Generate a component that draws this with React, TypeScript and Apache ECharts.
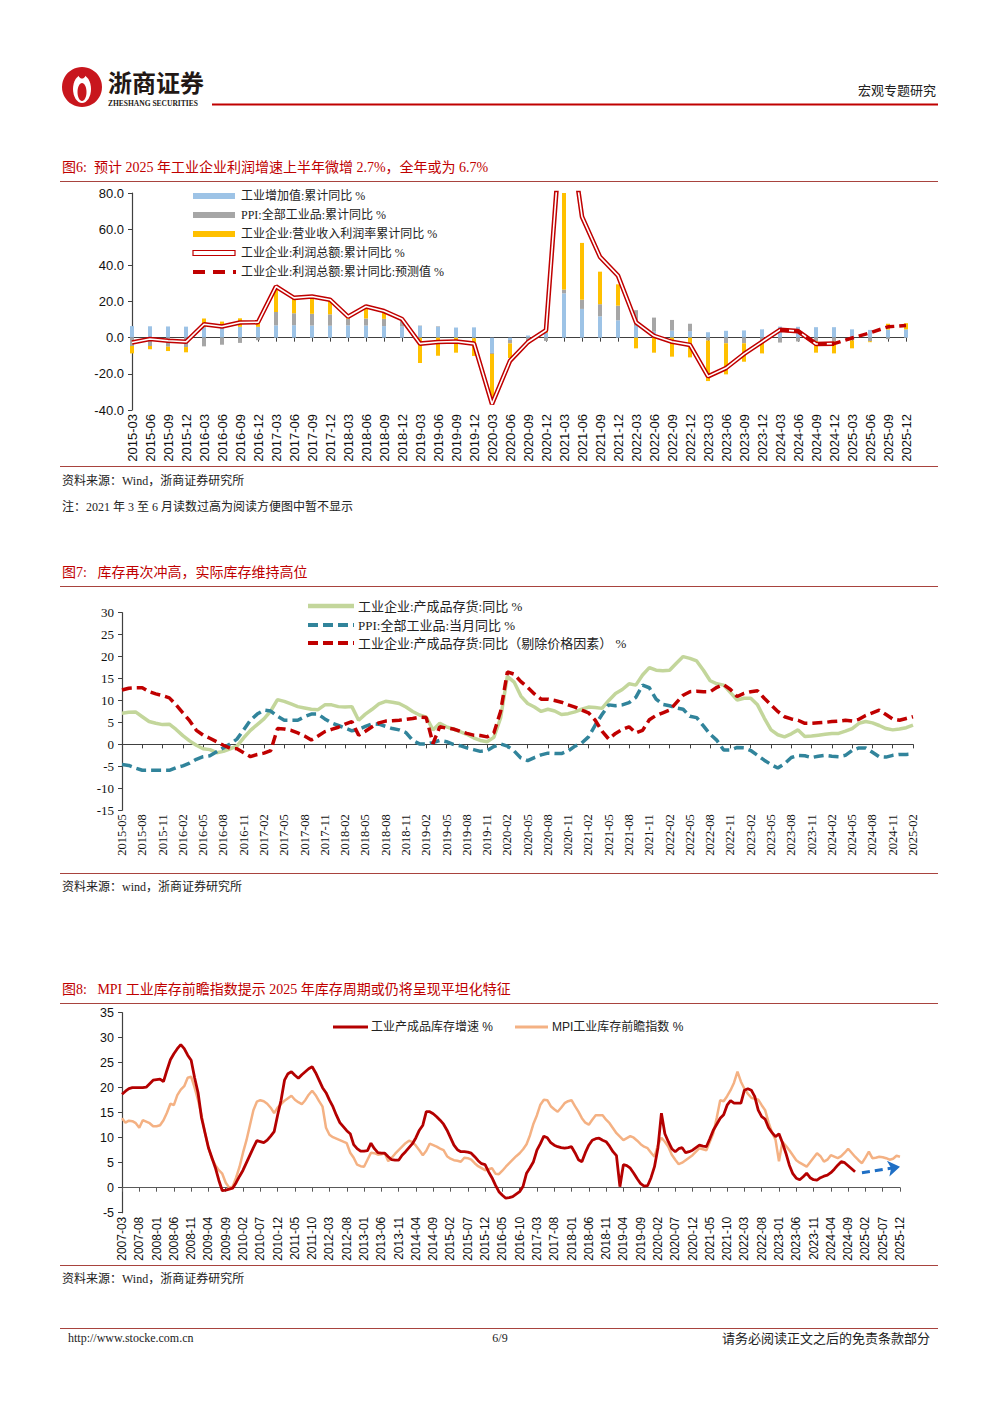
import React, { useEffect, useRef } from 'react';
import * as echarts from 'echarts';

function monthRange(y0: number, m0: number, y1: number, m1: number, step: number): string[] {
  const out: string[] = [];
  let y = y0, m = m0;
  while (y < y1 || (y === y1 && m <= m1)) {
    out.push(`${y}-${String(m).padStart(2, '0')}`);
    m += step;
    while (m > 12) { m -= 12; y += 1; }
  }
  return out;
}

// ---------- Chart 1 (图6) ----------
const c1Cats = monthRange(2015, 3, 2025, 12, 3);
const c1VA = [6.4,6.3,6.2,6.1,5.8,6.0,6.0,6.0,6.8,6.9,6.7,6.6,6.8,6.7,6.4,6.2,6.5,6.0,5.6,5.7,-8.4,-1.3,1.2,2.8,24.5,15.9,11.8,9.6,6.5,3.4,3.9,3.6,3.0,3.8,4.0,4.6,6.1,6.0,5.8,5.8,4.6,4.3,4.5,4.6];
const c1PPI = [-4.6,-4.6,-5.0,-5.2,-4.8,-3.9,-2.9,-1.4,7.4,6.6,6.5,6.3,3.7,3.9,4.0,3.5,0.2,0.3,0.0,-0.3,-0.6,-1.9,-2.0,-1.8,2.1,5.1,6.7,8.1,8.7,7.7,5.9,4.1,-1.6,-3.1,-3.1,-3.0,-2.7,-2.1,-1.9,-2.2,-1.5,-2.0,-0.8,-0.2];
const c1Margin = [-4.1,-1.8,-2.4,-2.9,4.8,2.9,4.7,3.0,12.5,8.4,9.4,7.9,1.0,6.5,4.0,0.6,-14.0,-10.0,-8.3,-9.8,-27.0,-8.0,-1.5,1.0,110.7,31.4,18.0,11.8,-5.9,-8.3,-10.5,-10.9,-22.4,-17.2,-10.2,-5.7,0.0,0.0,-6.4,-6.5,-4.4,-0.5,3.2,3.4];
const c1Profit = [-2.7,-0.7,-1.7,-2.3,7.4,6.2,8.4,8.5,28.3,22.0,22.8,21.0,11.6,17.2,14.7,10.3,-3.3,-2.4,-2.1,-3.3,-36.7,-12.8,-2.4,4.1,137.3,66.9,44.7,34.3,8.5,1.0,-2.3,-4.0,-21.4,-16.8,-9.0,-2.3,4.3,3.6,-3.5,-3.3,null,null,null,null];
const c1Forecast = [null,null,null,null,null,null,null,null,null,null,null,null,null,null,null,null,null,null,null,null,null,null,null,null,null,null,null,null,null,null,null,null,null,null,null,null,4.3,3.6,-3.5,-3.3,-0.2,2.7,6.0,6.7];
const c1Names = ['工业增加值:累计同比 %', 'PPI:全部工业品:累计同比 %', '工业企业:营业收入利润率累计同比 %', '工业企业:利润总额:累计同比 %', '工业企业:利润总额:累计同比:预测值 %'];

// ---------- Chart 2 (图7) ----------
const c2Cats = monthRange(2015, 5, 2025, 2, 1);
const c2Nominal = [
  7.1,7.3,7.4,6.3,5.2,4.8,4.5,4.6,3.4,2.0,
  0.8,-0.2,-1.0,-1.2,-1.9,-1.6,-1.0,-0.4,1.5,3.2,
  4.5,5.8,7.6,10.2,9.8,9.2,8.6,8.3,8.0,7.9,
  9.0,9.0,8.6,8.5,8.6,5.5,6.9,8.0,9.2,9.8,
  9.6,9.3,8.5,7.5,6.7,6.2,3.3,4.8,4.0,3.5,
  2.9,2.3,1.5,0.9,0.6,1.6,6.0,15.5,14.2,11.0,
  9.3,8.5,7.5,8.0,7.6,6.8,7.0,7.4,8.0,8.5,
  8.4,8.2,10.0,11.6,12.5,13.8,13.5,15.8,17.5,16.9,
  16.8,16.9,18.5,20.0,19.6,19.0,16.9,14.5,13.8,13.5,
  11.8,10.1,10.5,10.5,9.0,6.0,3.3,2.2,1.7,2.4,
  3.3,1.8,1.9,2.1,2.3,2.5,2.5,3.0,3.6,4.8,
  5.2,4.9,4.3,3.6,3.3,3.5,3.8,4.4
];
const c2PPI = [
  -4.6,-4.8,-5.4,-5.9,-5.9,-5.9,-5.9,-5.9,
  -5.3,-4.9,-4.3,-3.4,-2.8,-2.6,-1.7,-0.8,0.1,1.2,3.3,5.5,
  6.9,7.8,7.6,6.4,5.5,5.5,5.5,6.3,6.9,6.9,5.8,4.9,
  4.3,3.7,3.1,3.4,4.1,4.7,4.6,4.1,3.6,3.3,2.7,0.9,
  0.1,0.1,0.4,0.9,0.6,0.0,-0.3,-0.8,-1.2,-1.6,-1.4,-0.5,
  0.1,-0.4,-1.5,-3.1,-3.7,-3.0,-2.4,-2.0,-2.1,-2.1,-1.5,-0.4,
  0.3,1.7,4.4,6.8,9.0,8.8,9.0,9.5,10.7,13.5,12.9,10.3,
  9.1,8.8,8.3,8.0,6.4,6.1,4.2,2.3,0.9,-1.3,-1.3,-0.7,
  -0.8,-1.4,-2.5,-3.6,-4.6,-5.4,-4.4,-3.0,-2.5,-2.6,-3.0,-2.7,
  -2.5,-2.7,-2.8,-2.5,-1.4,-0.8,-0.8,-1.8,-2.8,-2.9,-2.5,-2.3,
  -2.3,-2.2
];
const c2Real = [
  12.4,12.8,12.9,12.9,12.0,11.5,11.1,10.6,9.0,7.2,
  5.4,3.2,2.1,1.4,0.6,-0.2,-0.9,-1.0,-1.9,-2.8,
  -2.3,-2.0,-1.4,3.6,3.5,3.2,2.6,1.9,1.0,1.9,
  2.9,3.4,3.9,4.6,5.2,2.1,3.0,4.0,4.9,5.3,
  5.4,5.5,5.7,5.9,6.2,6.1,0.2,4.0,3.7,3.5,
  3.0,2.5,2.1,2.0,1.7,2.6,7.5,16.5,16.0,14.3,
  13.0,11.5,10.3,10.3,10.0,9.6,9.0,8.5,7.8,7.2,
  5.5,3.0,1.2,2.5,3.4,4.0,2.6,3.2,5.6,6.6,
  7.2,7.8,9.5,11.2,12.0,12.1,12.0,12.0,13.0,13.6,
  12.5,10.9,11.6,12.0,12.2,10.5,9.0,7.5,6.3,5.8,
  5.5,4.8,4.8,4.9,5.0,5.2,5.3,5.5,5.3,5.7,
  6.6,7.2,7.8,6.8,5.8,5.5,5.9,6.3
];
const c2Names = ['工业企业:产成品存货:同比 %', 'PPI:全部工业品:当月同比 %', '工业企业:产成品存货:同比（剔除价格因素） %'];

// ---------- Chart 3 (图8) ----------
const c3Cats = monthRange(2007, 3, 2025, 12, 1);
const c3Inv = [
  18.7,19.3,19.8,20.0,20.0,20.0,20.0,20.1,20.8,21.5,
  21.6,21.7,21.2,23.5,25.6,26.8,27.8,28.6,27.8,26.5,
  25.5,22.0,19.0,14.0,11.0,8.0,6.0,4.0,1.5,-0.6,
  -0.5,-0.3,-0.1,1.0,2.3,3.5,5.0,6.5,8.0,9.4,
  9.2,9.0,9.5,10.3,11.2,14.5,17.5,21.5,22.8,23.2,
  22.5,21.9,22.6,23.2,23.8,24.2,23.0,21.5,20.0,19.0,
  17.5,16.2,14.5,13.0,12.2,11.4,10.8,8.6,7.8,7.3,
  7.3,7.4,8.9,7.8,7.0,6.9,6.9,6.2,5.6,5.5,
  5.5,6.5,7.2,8.0,8.8,10.0,11.5,12.5,15.2,15.2,
  14.8,14.2,13.5,12.7,11.5,10.0,8.5,7.6,7.2,7.2,
  7.1,6.9,6.2,5.4,4.8,4.6,3.2,2.0,0.5,-0.8,
  -1.5,-2.1,-2.0,-1.8,-1.3,-0.8,0.3,2.9,4.0,5.2,
  7.5,8.8,10.3,10.0,9.0,8.5,8.2,8.0,7.9,8.0,
  8.2,7.0,5.6,5.2,7.0,8.5,9.5,9.8,9.9,9.5,
  9.2,8.3,7.2,6.4,0.2,4.6,4.4,3.9,2.9,1.8,
  0.8,0.3,0.4,2.0,4.2,8.0,14.9,10.8,9.2,7.8,
  7.2,7.8,8.0,7.0,7.2,7.5,8.0,8.5,8.3,8.2,
  9.8,11.5,12.7,13.9,14.6,16.5,17.4,16.9,16.9,16.9,
  19.5,19.8,19.5,18.2,15.5,14.2,13.7,12.0,11.0,10.2,
  10.8,9.0,6.9,4.5,2.8,1.9,1.6,2.2,2.9,2.0,
  1.6,1.5,2.0,2.3,2.5,3.0,3.7,4.5,5.2,5.0,
  4.4,3.8,3.2,null,null,null,null,null,null,null,
  null,null,null,null,null,null
];
const c3MPI = [
  13.9,13.0,13.4,13.3,12.9,12.0,13.5,13.2,12.9,12.3,
  12.3,12.5,13.5,15.0,16.8,16.5,18.5,19.6,20.3,22.0,
  22.2,20.0,17.5,14.5,11.0,8.0,5.8,4.5,3.5,2.8,
  1.0,0.0,0.2,2.0,4.2,7.0,9.5,12.5,15.5,17.2,
  17.5,17.3,16.8,16.0,14.9,16.0,16.7,17.4,17.9,18.4,
  17.6,17.1,16.7,17.5,18.6,19.4,18.5,17.3,16.2,12.0,
  10.6,10.1,9.8,9.5,9.2,8.9,7.0,6.0,4.6,4.3,
  4.2,5.6,7.0,6.9,6.6,6.7,6.9,5.3,6.0,6.8,
  7.5,8.2,8.9,9.4,9.1,8.4,7.5,6.5,7.4,8.8,
  8.5,8.2,7.8,7.5,6.3,5.8,5.5,5.4,5.2,6.0,
  5.9,5.6,4.9,4.3,3.9,3.5,3.7,3.9,2.8,2.7,
  3.4,4.2,4.9,5.6,6.3,6.9,7.7,8.7,10.5,12.8,
  14.5,16.6,17.6,17.5,16.3,15.7,15.2,16.0,16.9,17.3,
  17.5,16.3,15.2,13.9,13.0,12.6,13.6,14.5,14.5,14.5,
  13.6,12.9,11.9,10.9,10.2,9.5,9.9,10.3,10.0,9.4,
  8.7,8.2,7.9,7.0,6.2,8.5,10.0,9.2,8.2,6.6,
  5.6,4.7,5.0,5.5,6.0,6.5,7.2,7.9,7.7,7.5,
  9.2,10.9,14.0,17.5,17.3,18.3,19.5,21.0,23.2,21.2,
  19.8,18.8,18.0,17.8,17.6,16.5,15.5,13.0,11.0,9.6,
  5.3,9.2,8.4,7.5,6.5,5.5,5.0,4.6,4.2,5.1,
  6.0,6.9,6.3,5.2,5.6,6.5,6.2,5.9,6.3,7.0,
  7.8,7.0,6.2,5.5,4.9,6.0,7.2,5.9,6.0,6.2,
  6.1,5.9,5.6,5.8,6.4,6.2
];
const c3Arrow = [['2025-01', 3.0], ['2025-12', 4.2]];
const c3Names = ['工业产成品库存增速 %', 'MPI工业库存前瞻指数 %'];

// ---------- styling ----------
const SERIF = "'Liberation Serif', 'Noto Sans CJK SC', serif";
const SANS = "'Liberation Sans', 'Noto Sans CJK SC', sans-serif";
const RED = '#c00000';
const RULE = '#a8433e';
const AXIS = '#404040';

function txt(x: number, y: number, text: string, o: any = {}) {
  return {
    type: 'text', x, y, silent: true,
    style: {
      text, fill: o.fill || '#222', fontSize: o.fontSize || 12,
      fontFamily: o.fontFamily || SERIF, fontWeight: o.fontWeight || 'normal',
      align: o.align || 'left', verticalAlign: 'middle',
    },
  };
}
function hline(x1: number, x2: number, y: number, stroke: string, lineWidth: number, dash?: number[]) {
  return { type: 'line', silent: true, shape: { x1, y1: y, x2, y2: y }, style: { stroke, lineWidth, lineDash: dash } };
}
function rect(x: number, y: number, w: number, h: number, fill: string, stroke?: string) {
  return { type: 'rect', silent: true, shape: { x, y, width: w, height: h }, style: { fill, stroke, lineWidth: stroke ? 1.2 : 0 } };
}

function labelAxis(grid: number, data: string[], interval: number, font: string, size: number) {
  return {
    type: 'category', gridIndex: grid, data, boundaryGap: false, position: 'bottom',
    axisLine: { show: false, onZero: false }, axisTick: { show: false },
    axisLabel: { interval, rotate: 90, fontFamily: font, fontSize: size, color: '#111', margin: 4 },
  };
}
function zeroAxis(grid: number, data: string[], interval: number, color: string) {
  return {
    type: 'category', gridIndex: grid, data, boundaryGap: false, position: 'bottom',
    axisLine: { show: true, onZero: true, lineStyle: { color, width: 1.2 } },
    axisTick: { show: true, interval, length: 4, lineStyle: { color } },
    axisLabel: { show: false },
  };
}
function valAxis(grid: number, min: number, max: number, interval: number, font: string, size: number, fmt?: (v: number) => string) {
  return {
    type: 'value', gridIndex: grid, min, max, interval,
    axisLine: { show: true, lineStyle: { color: AXIS, width: 1.2 } },
    axisTick: { show: true, length: 4, lineStyle: { color: AXIS } },
    splitLine: { show: false },
    axisLabel: { fontFamily: font, fontSize: size, color: '#111', margin: 8, formatter: fmt },
  };
}

const graphics: any[] = [
  // header
  { type: 'circle', silent: true, shape: { cx: 82, cy: 87, r: 20 }, style: { fill: '#c8161d' } },
  { type: 'ellipse', silent: true, shape: { cx: 82, cy: 89, rx: 9, ry: 14 }, style: { fill: '#fff' } },
  { type: 'ellipse', silent: true, shape: { cx: 82, cy: 92, rx: 4.5, ry: 9 }, style: { fill: '#c8161d' } },
  { type: 'circle', silent: true, shape: { cx: 82, cy: 75, r: 3.5 }, style: { fill: '#c8161d' } },
  txt(108, 81, '浙商证券', { fontSize: 24, fontWeight: 'bold', fontFamily: "'Noto Sans CJK SC', sans-serif", fill: '#231815' }),
  txt(108, 103.5, 'ZHESHANG SECURITIES', { fontSize: 7.5, fontWeight: 'bold', fontFamily: "'Liberation Serif', serif", fill: '#231815' }),
  hline(212, 938, 104.5, RED, 2),
  txt(936, 90, '宏观专题研究', { fontSize: 13, align: 'right' }),

  // chart 1 frame
  txt(62, 167, '图6:  预计 2025 年工业企业利润增速上半年微增 2.7%，全年或为 6.7%', { fontSize: 14, fill: RED }),
  hline(60, 938, 181.5, RULE, 1),
  hline(60, 938, 466.5, RULE, 1),
  txt(62, 481, '资料来源：Wind，浙商证券研究所', { fontSize: 12 }),
  txt(62, 507, '注：2021 年 3 至 6 月读数过高为阅读方便图中暂不显示', { fontSize: 12 }),
  // chart 1 legend
  rect(193, 193, 42, 6, '#9dc3e6'),
  txt(241, 196, c1Names[0]),
  rect(193, 212, 42, 6, '#a6a6a6'),
  txt(241, 215, c1Names[1]),
  rect(193, 231, 42, 6, '#ffc000'),
  txt(241, 234, c1Names[2]),
  rect(193, 250.5, 42, 5, '#ffffff', RED),
  txt(241, 253, c1Names[3]),
  hline(193, 236, 272, RED, 4, [12, 8]),
  txt(241, 272, c1Names[4]),

  // chart 2 frame
  txt(62, 572, '图7:   库存再次冲高，实际库存维持高位', { fontSize: 14, fill: RED }),
  hline(60, 938, 586.5, RULE, 1),
  hline(60, 938, 873.5, RULE, 1),
  txt(62, 887, '资料来源：wind，浙商证券研究所', { fontSize: 12 }),
  // chart 2 legend
  hline(308, 354, 606, '#c3d69b', 4.5),
  txt(358, 606, c2Names[0], { fontSize: 13 }),
  hline(308, 354, 625, '#31849b', 4, [10, 5]),
  txt(358, 625, c2Names[1], { fontSize: 13 }),
  hline(308, 354, 643, RED, 4, [10, 5]),
  txt(358, 643, c2Names[2], { fontSize: 13 }),

  // chart 3 frame
  txt(62, 989, '图8:   MPI 工业库存前瞻指数提示 2025 年库存周期或仍将呈现平坦化特征', { fontSize: 14, fill: RED }),
  hline(60, 938, 1003.5, RULE, 1),
  hline(60, 938, 1265.5, RULE, 1),
  txt(62, 1279, '资料来源：Wind，浙商证券研究所', { fontSize: 12 }),
  // chart 3 legend
  hline(333, 368, 1027, '#b40000', 3),
  txt(371, 1027, c3Names[0], { fontSize: 12, fontFamily: SANS }),
  hline(515, 548, 1027, '#f4b183', 3),
  txt(552, 1027, c3Names[1], { fontSize: 12, fontFamily: SANS }),

  // footer
  hline(60, 938, 1328.5, RULE, 1),
  txt(68, 1338, 'http://www.stocke.com.cn', { fontSize: 12 }),
  txt(500, 1338, '6/9', { fontSize: 12, align: 'center' }),
  txt(930, 1338, '请务必阅读正文之后的免责条款部分', { fontSize: 13, align: 'right' }),
];

function buildOption(): any {
  const bar = (name: string, data: number[], color: string) => ({
    type: 'bar', name, data, stack: 'c1', barWidth: 4, xAxisIndex: 0, yAxisIndex: 0,
    itemStyle: { color }, emphasis: { disabled: true }, silent: true,
  });
  const line = (name: string, data: any[], xi: number, yi: number, color: string, width: number, dash?: any, z = 3) => ({
    type: 'line', name, data, xAxisIndex: xi, yAxisIndex: yi, symbol: 'none', silent: true,
    lineStyle: { color, width, type: dash || 'solid' }, itemStyle: { color }, z,
    emphasis: { disabled: true },
  });
  return {
    animation: false,
    backgroundColor: '#ffffff',
    grid: [
      { left: 132, top: 193, width: 774, height: 217 },
      { left: 122, top: 612.7, width: 791, height: 197.5 },
      { left: 122, top: 1012.7, width: 778, height: 200 },
    ],
    xAxis: [
      labelAxis(0, c1Cats, 0, SANS, 13),
      zeroAxis(0, c1Cats, 0, AXIS),
      labelAxis(1, c2Cats, 2, SERIF, 12.5),
      zeroAxis(1, c2Cats, 2, AXIS),
      labelAxis(2, c3Cats, 4, SANS, 12),
      zeroAxis(2, c3Cats, 4, '#595959'),
    ],
    yAxis: [
      valAxis(0, -40, 80, 20, SANS, 13, (v: number) => v.toFixed(1)),
      valAxis(1, -15, 30, 5, SERIF, 13),
      valAxis(2, -5, 35, 5, SANS, 12.5),
    ],
    series: [
      bar(c1Names[0], c1VA, '#9dc3e6'),
      bar(c1Names[1], c1PPI, '#a6a6a6'),
      bar(c1Names[2], c1Margin, '#ffc000'),
      line(c1Names[3], c1Profit, 0, 0, RED, 4.6, undefined, 3),
      line('利润总额内线', c1Profit, 0, 0, '#ffffff', 1.6, undefined, 4),
      line(c1Names[4], c1Forecast, 0, 0, RED, 3.5, [9, 5], 5),

      line(c2Names[0], c2Nominal, 2, 1, '#c3d69b', 3.5),
      line(c2Names[1], c2PPI, 2, 1, '#31849b', 3.5, [10, 5]),
      line(c2Names[2], c2Real, 2, 1, RED, 3.5, [10, 5]),

      line(c3Names[1], c3MPI, 4, 2, '#f4b183', 2.5),
      {
        ...line(c3Names[0], c3Inv, 4, 2, '#b40000', 2.8, undefined, 4),
        markLine: {
          silent: true, symbol: ['none', 'arrow'], symbolSize: 12, animation: false,
          label: { show: false }, emphasis: { disabled: true },
          lineStyle: { color: '#1f6fc5', width: 3, type: [8, 5] },
          data: [[{ coord: c3Arrow[0] }, { coord: c3Arrow[1] }]],
        },
      },
    ],
    graphic: graphics,
  };
}

export default function App() {
  const ref = useRef<HTMLDivElement>(null);
  useEffect(() => {
    if (!ref.current) return;
    const chart = echarts.init(ref.current, null, { renderer: 'svg' });
    chart.setOption(buildOption());
    return () => chart.dispose();
  }, []);
  return (
    <div
      ref={ref}
      style={{ position: 'absolute', left: 0, top: 0, width: 1000, height: 1414, background: '#ffffff' }}
    />
  );
}
